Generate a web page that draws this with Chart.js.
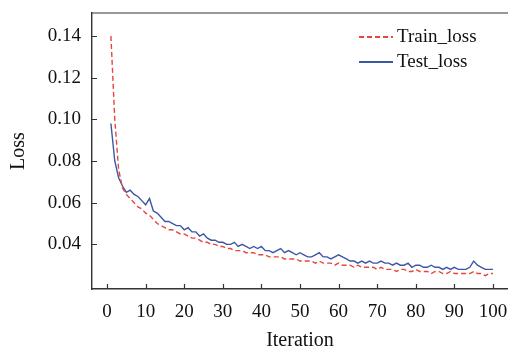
<!DOCTYPE html>
<html>
<head>
<meta charset="utf-8">
<script src="https://cdn.jsdelivr.net/npm/chart.js@4"></script>
<style>
  html, body { margin: 0; padding: 0; background: #fff; }
  #wrap { width: 508px; height: 349px; position: relative; }
</style>
</head>
<body>
<div id="wrap"><canvas id="lossChart"></canvas></div>
<script>
// iterations 1..100
const iterations = [];
for (let i = 1; i <= 100; i++) iterations.push(i);

const trainLoss = [
  0.140, 0.100, 0.076, 0.067, 0.064, 0.062, 0.060, 0.058, 0.057, 0.055,
  0.054, 0.052, 0.050, 0.049, 0.048, 0.047, 0.047, 0.046, 0.045, 0.045,
  0.044, 0.043, 0.043, 0.042, 0.041, 0.041, 0.040, 0.040, 0.039, 0.039,
  0.038, 0.038, 0.037, 0.037, 0.037, 0.036, 0.036, 0.036, 0.035, 0.035,
  0.035, 0.034, 0.034, 0.034, 0.034, 0.033, 0.033, 0.033, 0.033, 0.032,
  0.032, 0.032, 0.032, 0.031, 0.032, 0.031, 0.031, 0.031, 0.030, 0.031,
  0.030, 0.030, 0.030, 0.029, 0.030, 0.029, 0.029, 0.029, 0.029, 0.028,
  0.029, 0.028, 0.028, 0.028, 0.027, 0.028, 0.028, 0.027, 0.027, 0.028,
  0.027, 0.027, 0.027, 0.026, 0.027, 0.027, 0.026, 0.026, 0.027, 0.026,
  0.026, 0.026, 0.026, 0.026, 0.027, 0.026, 0.026, 0.025, 0.026, 0.026
];

const testLoss = [
  0.098, 0.080, 0.072, 0.068, 0.065, 0.066, 0.064, 0.063, 0.061, 0.059,
  0.062, 0.056, 0.055, 0.053, 0.051, 0.051, 0.050, 0.049, 0.049, 0.047,
  0.048, 0.046, 0.046, 0.044, 0.045, 0.043, 0.042, 0.042, 0.041, 0.041,
  0.040, 0.040, 0.041, 0.039, 0.040, 0.039, 0.038, 0.039, 0.038, 0.039,
  0.037, 0.037, 0.036, 0.037, 0.038, 0.036, 0.037, 0.036, 0.035, 0.036,
  0.035, 0.034, 0.034, 0.035, 0.036, 0.034, 0.034, 0.033, 0.034, 0.035,
  0.034, 0.033, 0.032, 0.032, 0.031, 0.032, 0.031, 0.032, 0.031, 0.031,
  0.032, 0.031, 0.031, 0.030, 0.031, 0.030, 0.030, 0.031, 0.029, 0.030,
  0.030, 0.029, 0.029, 0.030, 0.029, 0.029, 0.028, 0.029, 0.028, 0.029,
  0.028, 0.028, 0.028, 0.029, 0.032, 0.030, 0.029, 0.028, 0.028, 0.028
];

const xTicks = [0, 10, 20, 30, 40, 50, 60, 70, 80, 90, 100];
const yTicks = [0.04, 0.06, 0.08, 0.10, 0.12, 0.14];

const seriesNames = ['Train_loss', 'Test_loss'];
const FONT = '"Liberation Serif", "Times New Roman", serif';
const AXIS_COLOR = '#333';

// inward tick marks, top frame line and the legend
const framePlugin = {
    id: 'framePlugin',
    afterDraw(chart) {
        const ctx = chart.ctx;
        const area = chart.chartArea;
        const xs = chart.scales.x;
        const ys = chart.scales.y;
        ctx.save();
        ctx.strokeStyle = AXIS_COLOR;
        ctx.lineWidth = 1.2;
        ctx.beginPath();
        ctx.moveTo(area.left, area.top);
        ctx.lineTo(area.right, area.top);
        xTicks.forEach(v => {
            const px = Math.round(xs.getPixelForValue(v)) + 0.5;
            ctx.moveTo(px, area.bottom);
            ctx.lineTo(px, area.bottom - 5);
        });
        yTicks.forEach(v => {
            const py = Math.round(ys.getPixelForValue(v)) + 0.5;
            ctx.moveTo(area.left, py);
            ctx.lineTo(area.left + 5, py);
        });
        ctx.stroke();

        // legend
        const lx = 359, ly = 37, gap = 25;
        chart.data.datasets.forEach((ds, i) => {
            const y = ly + i * gap;
            ctx.beginPath();
            ctx.strokeStyle = ds.borderColor;
            ctx.lineWidth = 2;
            ctx.setLineDash(ds.borderDash || []);
            ctx.moveTo(lx, y);
            ctx.lineTo(lx + 34, y);
            ctx.stroke();
            ctx.setLineDash([]);
            ctx.fillStyle = '#111';
            ctx.font = '19px ' + FONT;
            ctx.textBaseline = 'middle';
            ctx.fillText(ds.label, lx + 38, y);
        });
        ctx.restore();
    }
};

new Chart(document.getElementById('lossChart'), {
    type: 'line',
    data: {
        labels: iterations,
        datasets: [
            {
                label: seriesNames[0],
                data: trainLoss,
                borderColor: '#e8453c',
                borderWidth: 1.4,
                borderDash: [5, 3],
                pointRadius: 0,
                tension: 0
            },
            {
                label: seriesNames[1],
                data: testLoss,
                borderColor: '#3b57a6',
                borderWidth: 1.4,
                pointRadius: 0,
                tension: 0
            }
        ]
    },
    options: {
        responsive: true,
        maintainAspectRatio: false,
        animation: false,
        layout: { padding: { top: 13, right: 0, bottom: 0, left: 0 } },
        plugins: {
            legend: { display: false },
            tooltip: { enabled: false }
        },
        scales: {
            x: {
                type: 'linear',
                min: -3.9,
                max: 103.9,
                afterBuildTicks: axis => { axis.ticks = xTicks.map(v => ({ value: v })); },
                afterFit: axis => {
                    axis.height = 60;
                    axis.paddingLeft = 0;
                    axis.paddingRight = 0;
                },
                grid: { display: false, drawTicks: false },
                border: { display: true, color: AXIS_COLOR, width: 1.4 },
                ticks: {
                    padding: 12,
                    maxRotation: 0,
                    color: '#111',
                    font: { family: FONT, size: 19 },
                    callback: v => String(v)
                },
                title: {
                    display: true,
                    text: 'Iteration',
                    color: '#111',
                    font: { family: FONT, size: 20 },
                    padding: { top: 8, bottom: -4 }
                }
            },
            y: {
                min: 0.0186,
                max: 0.151,
                afterBuildTicks: axis => { axis.ticks = yTicks.map(v => ({ value: v })); },
                afterFit: axis => {
                    axis.width = 92;
                    axis.paddingTop = 0;
                    axis.paddingBottom = 0;
                },
                grid: { display: false, drawTicks: false },
                border: { display: true, color: AXIS_COLOR, width: 1.4 },
                ticks: {
                    padding: 11,
                    color: '#111',
                    font: { family: FONT, size: 19 },
                    callback: v => v.toFixed(2)
                },
                title: {
                    display: true,
                    text: 'Loss',
                    color: '#111',
                    font: { family: FONT, size: 20 },
                    padding: { top: 7, bottom: 0 }
                }
            }
        }
    },
    plugins: [framePlugin]
});
</script>
</body>
</html>
